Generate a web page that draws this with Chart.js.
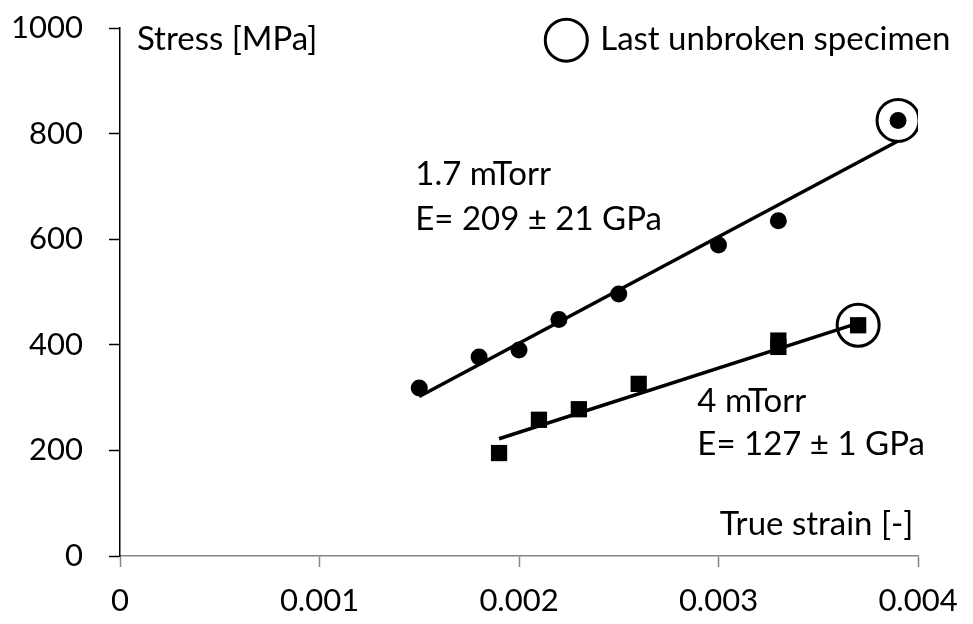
<!DOCTYPE html>
<html>
<head>
<meta charset="utf-8">
<script src="https://cdn.jsdelivr.net/npm/chart.js@4/dist/chart.umd.min.js"></script>
<style>
  html, body { margin: 0; padding: 0; background: #fff; }
  #wrap { width: 973px; height: 624px; }
</style>
</head>
<body>
<div id="wrap"><canvas id="chart" width="973" height="624"></canvas></div>
<script>
// Measured points, 1.7 mTorr (circles)
const strain17 = [0.0015, 0.0018, 0.0020, 0.0022, 0.0025, 0.0030, 0.0033, 0.0039];
const stress17 = [318, 377, 390, 448, 496, 589, 635, 825];

// Measured points, 4 mTorr (squares)
const strain4 = [0.0019, 0.0021, 0.0023, 0.0026, 0.0033, 0.0033, 0.0037];
const stress4 = [195, 258, 278, 326, 396, 408, 437];

// Linear fit end points
const fitStrain17 = [0.0015, 0.0039];
const fitStress17 = [302, 786];
const fitStrain4 = [0.0019, 0.0037];
const fitStress4 = [222, 441];

// Last unbroken specimen markers
const unbrokenStrain = [0.0039, 0.0037];
const unbrokenStress = [825, 437];

// Axis ticks
const xTicks = [0, 0.001, 0.002, 0.003, 0.004];
const yTicks = [0, 200, 400, 600, 800, 1000];

// Text labels placed in data coordinates
const labels = [
    { text: "Stress [MPa]", x: 0.000085, y: 958, align: "left" },
    { text: "1.7 mTorr", x: 0.00148, y: 703, align: "left" },
    { text: "E= 209 \u00b1 21 GPa", x: 0.00148, y: 617, align: "left" },
    { text: "4 mTorr", x: 0.002894, y: 273, align: "left" },
    { text: "E= 127 \u00b1 1 GPa", x: 0.002894, y: 191, align: "left" },
    { text: "True strain [-]", x: 0.003977, y: 40, align: "right" },
    { text: "Last unbroken specimen", x: 0.002407, y: 958, align: "left" }
];
const legendCircle = { x: 0.002237, y: 977 };

const FONT = "Lato";
const TICK_SIZE = 31;
const LABEL_SIZE = 33;

const toXY = (xs, ys) => xs.map((x, i) => ({ x: x, y: ys[i] }));

// Plugin that writes the labels and the legend circle
const textPlugin = {
    id: "textLabels",
    afterDatasetsDraw(chart) {
        const ctx = chart.ctx;
        const xs = chart.scales.x;
        const ys = chart.scales.y;
        ctx.save();
        ctx.fillStyle = "#000";
        ctx.font = LABEL_SIZE + "px " + FONT;
        ctx.textBaseline = "alphabetic";
        labels.forEach(l => {
            ctx.textAlign = l.align;
            ctx.fillText(l.text, xs.getPixelForValue(l.x), ys.getPixelForValue(l.y));
        });
        ctx.beginPath();
        ctx.lineWidth = 3;
        ctx.strokeStyle = "#000";
        ctx.arc(xs.getPixelForValue(legendCircle.x), ys.getPixelForValue(legendCircle.y), 21, 0, Math.PI * 2);
        ctx.stroke();
        ctx.restore();
    }
};

const ctx = document.querySelector("#chart").getContext("2d");

const chart = new Chart(ctx, {
    type: "scatter",
    data: {
        datasets: [
            {
                label: "Last unbroken specimen",
                data: toXY(unbrokenStrain, unbrokenStress),
                pointStyle: "circle",
                pointRadius: 21,
                backgroundColor: "rgba(0,0,0,0)",
                borderColor: "#000",
                borderWidth: 3
            },
            {
                label: "1.7 mTorr",
                data: toXY(strain17, stress17),
                pointStyle: "circle",
                pointRadius: 8.5,
                backgroundColor: "#000",
                borderWidth: 0
            },
            {
                label: "4 mTorr",
                data: toXY(strain4, stress4),
                pointStyle: "rect",
                pointRadius: 11.5,
                backgroundColor: "#000",
                borderWidth: 0
            },
            {
                label: "fit 1.7 mTorr",
                type: "line",
                data: toXY(fitStrain17, fitStress17),
                borderColor: "#000",
                borderWidth: 3.5,
                pointRadius: 0
            },
            {
                label: "fit 4 mTorr",
                type: "line",
                data: toXY(fitStrain4, fitStress4),
                borderColor: "#000",
                borderWidth: 3.5,
                pointRadius: 0
            }
        ]
    },
    options: {
        responsive: false,
        animation: false,
        layout: { padding: { left: 0, right: 55, top: 28, bottom: 0 } },
        plugins: {
            legend: { display: false },
            tooltip: { enabled: false }
        },
        scales: {
            x: {
                type: "linear",
                min: 0,
                max: 0.004,
                afterBuildTicks: axis => { axis.ticks = xTicks.map(v => ({ value: v })); },
                afterFit: axis => {
                    axis.height = 68;
                    axis.paddingLeft = 0;
                    axis.paddingRight = 0;
                },
                grid: { drawOnChartArea: false, drawTicks: true, tickLength: 11, tickColor: "#868686", tickWidth: 1.5 },
                border: { color: "#868686", width: 1.5 },
                ticks: {
                    color: "#000",
                    font: { family: FONT, size: TICK_SIZE },
                    padding: 15,
                    maxRotation: 0,
                    callback: v => String(v)
                }
            },
            y: {
                type: "linear",
                min: 0,
                max: 1000,
                afterBuildTicks: axis => { axis.ticks = yTicks.map(v => ({ value: v })); },
                afterFit: axis => {
                    axis.width = 120;
                    axis.paddingTop = 0;
                    axis.paddingBottom = 0;
                },
                grid: { drawOnChartArea: false, drawTicks: true, tickLength: 11, tickColor: "#000", tickWidth: 1.5 },
                border: { color: "#000", width: 1.5 },
                ticks: {
                    color: "#000",
                    font: { family: FONT, size: TICK_SIZE },
                    padding: 26,
                    callback: v => String(v)
                }
            }
        }
    },
    plugins: [textPlugin]
});
</script>
</body>
</html>
